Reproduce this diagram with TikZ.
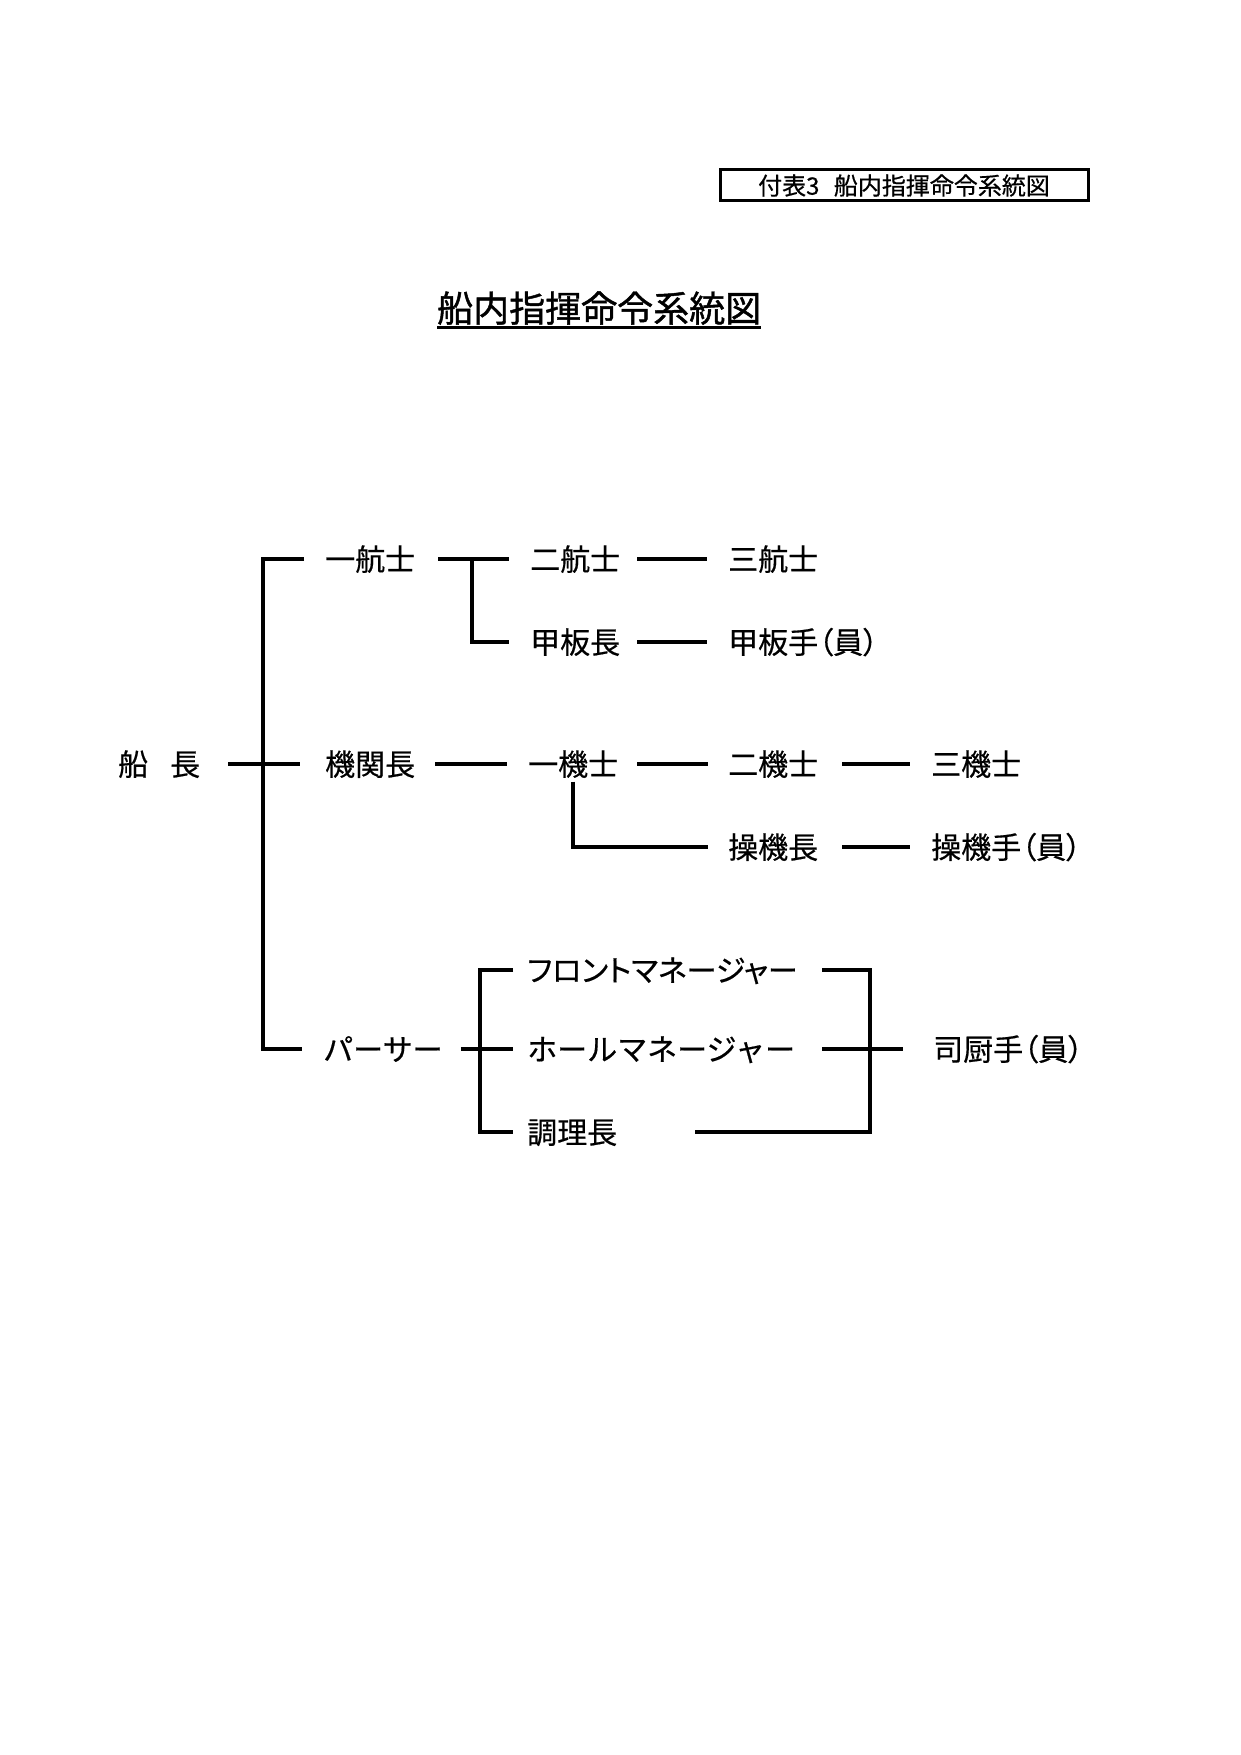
\documentclass[tikz,border=0pt]{standalone}
\usepackage{fontspec}
\setmainfont{Noto Sans CJK JP}[FakeBold=0.5]
\newfontfamily\jpp{Noto Sans CJK JP}[RawFeature=+palt,FakeBold=0.5]
\newfontfamily\jpt{Noto Sans CJK JP}[FakeBold=1.2]
\usetikzlibrary{calc}
\begin{document}
\begin{tikzpicture}[x=1pt,y=-1pt,
  lbl/.style={inner sep=0pt, anchor=west, font=\fontsize{30}{30}\selectfont, text height=25pt, text depth=2pt},
  kana/.style={lbl, font=\jpp\fontsize{30}{30}\selectfont},
  ln/.style={line width=3.2pt}]
\useasboundingbox[fill=white] (0,0) rectangle (1241,1755);
% tag box
\node[draw, line width=3pt, minimum width=368pt, minimum height=31pt, inner sep=0pt,
  font=\fontsize{24}{24}\selectfont, text height=20pt, text depth=1.7pt] (tag) at (904,185.5) {付表3\hspace{0.6em}船内指揮命令系統図};
% title
\node[lbl, font=\jpt\fontsize{36}{36}\selectfont, text height=30pt, text depth=2.5pt] (title) at (437,308) {船内指揮命令系統図};
\draw[line width=2.2pt] ($(title.south west)+(0,3)$) -- ($(title.south east)+(0,3)$);
% nodes
\node[lbl] (cap) at (118,764) {船\hspace{22pt}長};
\node[lbl] (n11) at (325,559) {一航士};
\node[lbl] (n12) at (530,559) {二航士};
\node[lbl] (n13) at (728,559) {三航士};
\node[lbl] (n22) at (530,642) {甲板長};
\node[lbl] (n23) at (728,642) {甲板手{\jpp（員）}};
\node[lbl] (n31) at (325,764) {機関長};
\node[lbl] (n32) at (528,764) {一機士};
\node[lbl] (n33) at (728,764) {二機士};
\node[lbl] (n34) at (931,764) {三機士};
\node[lbl] (n43) at (728,847) {操機長};
\node[lbl] (n44) at (931,847) {操機手{\jpp（員）}};
\node[kana] (n52) at (527,970) {フロントマネージャー};
\node[lbl] (n61) at (323,1049) {パーサー};
\node[lbl] (n62) at (527,1049) {ホールマネージャー};
\node[lbl] (n72) at (527,1132) {調理長};
\node[lbl] (n65) at (933,1049) {司厨手{\jpp（員）}};
\coordinate (vE) at (870,0);
% connectors
\draw[ln] ($(n11.west)+(-21,0)$) -| ($(n61.west)+(-60,0)$) -- ($(n61.west)+(-21,0)$);
\draw[ln] ($(cap.east)+(28,0)$) -- ($(n31.west)+(-25,0)$);
\draw[ln] ($(n11.east)+(23,0)$) -- ($(n12.west)+(-21,0)$);
\draw[ln] ($(n12.west)+(-58,0)$) |- ($(n22.west)+(-21,0)$);
\draw[ln] ($(n12.east)+(17,0)$) -- ($(n13.west)+(-21,0)$);
\draw[ln] ($(n22.east)+(17,0)$) -- ($(n23.west)+(-21,0)$);
\draw[ln] ($(n31.east)+(20,0)$) -- ($(n32.west)+(-21,0)$);
\draw[ln] ($(n32.east)+(19,0)$) -- ($(n33.west)+(-20,0)$);
\draw[ln] ($(n33.east)+(24,0)$) -- ($(n34.west)+(-21,0)$);
\draw[ln] ($(n32.south west)+(45,4)$) |- ($(n43.west)+(-20,0)$);
\draw[ln] ($(n43.east)+(24,0)$) -- ($(n44.west)+(-21,0)$);
\draw[ln] ($(n61.east)+(18,0)$) -- ($(n62.west)+(-14,0)$);
\draw[ln] ($(n52.west)+(-14,0)$) -| ($(n72.west)+(-47,0)$) -- ($(n72.west)+(-14,0)$);
\draw[ln] ($(n52.west)+(295,0)$) -| (vE |- n72.east) -- ($(n72.west)+(168,0)$);
\draw[ln] ($(n62.west)+(295,0)$) -- ($(n65.west)+(-30,0)$);
\end{tikzpicture}
\end{document}
